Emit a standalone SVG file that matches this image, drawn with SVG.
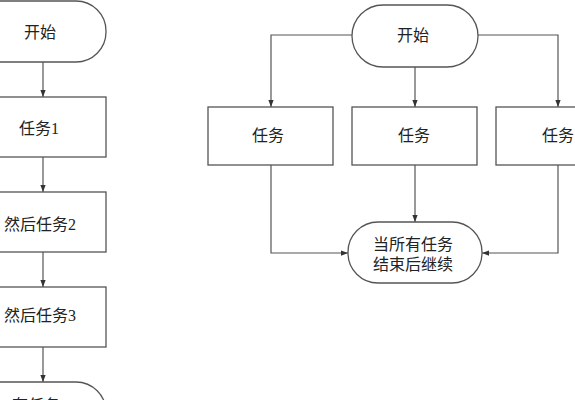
<svg xmlns="http://www.w3.org/2000/svg" width="575" height="400" viewBox="0 0 575 400">
<defs>
<style>
.s{fill:#fff;stroke:#555;stroke-width:1.3}
.c{fill:none;stroke:#555;stroke-width:1.2}
.t{font-family:"Liberation Serif","Noto Sans CJK SC",serif;font-size:16px;fill:#222;text-anchor:middle}
</style>
<marker id="a" viewBox="0 0 8 8" refX="8" refY="4" markerWidth="7" markerHeight="7" markerUnits="userSpaceOnUse" orient="auto">
<path d="M0,1 L8,4 L0,7 Z" fill="#333"/>
</marker>
</defs>
<rect width="575" height="400" fill="#fff"/>
<g id="connectors">
<path class="c" d="M43,62 V97" marker-end="url(#a)"/>
<path class="c" d="M43,157 V192" marker-end="url(#a)"/>
<path class="c" d="M43,252 V287" marker-end="url(#a)"/>
<path class="c" d="M43,347 V382" marker-end="url(#a)"/>
<path class="c" d="M352,35 H271 V107" marker-end="url(#a)"/>
<path class="c" d="M415,67 V107" marker-end="url(#a)"/>
<path class="c" d="M478,35 H558 V107" marker-end="url(#a)"/>
<path class="c" d="M271,165 V253 H348" marker-end="url(#a)"/>
<path class="c" d="M415,165 V222" marker-end="url(#a)"/>
<path class="c" d="M558,165 V253 H482" marker-end="url(#a)"/>
</g>
<g id="l-start"><rect class="s" x="-30" y="1" width="136" height="61" rx="30"/><text class="t" x="40" y="38">开始</text></g>
<g id="l-task1"><rect class="s" x="-30" y="97" width="136" height="60"/><text class="t" x="39" y="134">任务1</text></g>
<g id="l-task2"><rect class="s" x="-30" y="192" width="136" height="60"/><text class="t" x="40" y="230">然后任务2</text></g>
<g id="l-task3"><rect class="s" x="-30" y="287" width="136" height="60"/><text class="t" x="40" y="321">然后任务3</text></g>
<g id="l-end"><rect class="s" x="-30" y="382" width="136" height="61" rx="30"/><text class="t" x="40" y="411">有任务3</text></g>
<g id="r-start"><rect class="s" x="352" y="5" width="126" height="62" rx="31"/><text class="t" x="413" y="41">开始</text></g>
<g id="r-task-a"><rect class="s" x="208" y="107" width="125" height="58"/><text class="t" x="268" y="141">任务</text></g>
<g id="r-task-b"><rect class="s" x="352" y="107" width="125" height="58"/><text class="t" x="414" y="141">任务</text></g>
<g id="r-task-c"><rect class="s" x="496" y="107" width="125" height="58"/><text class="t" x="558" y="141">任务</text></g>
<g id="r-end"><rect class="s" x="348" y="222" width="134" height="61" rx="30"/><text class="t" x="413" y="250">当所有任务</text><text class="t" x="413" y="270">结束后继续</text></g>
</svg>
